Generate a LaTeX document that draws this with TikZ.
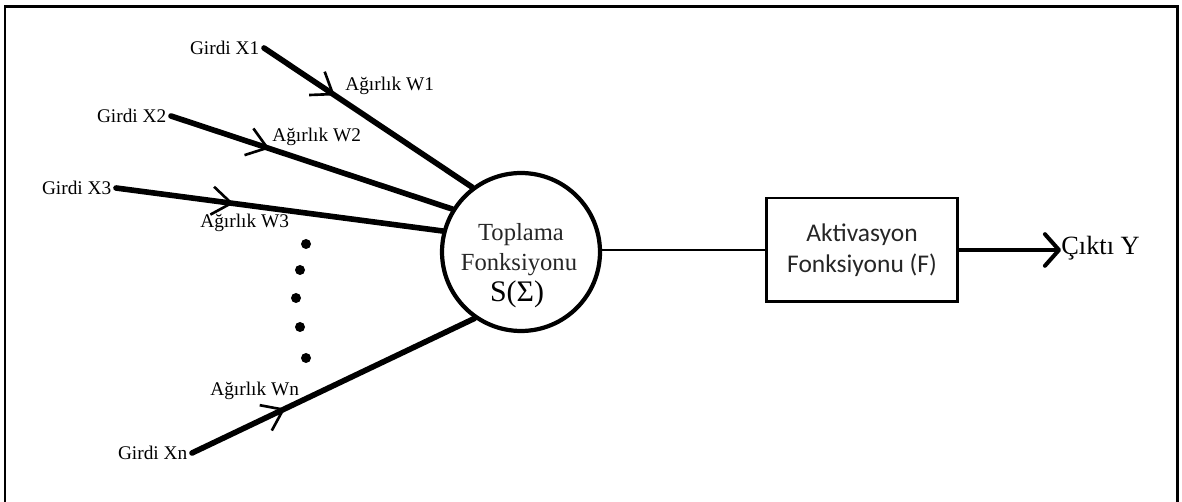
\documentclass[tikz,border=0pt]{standalone}
\usepackage{fontspec}
\setmainfont{Liberation Serif}
\newfontfamily\boxfont{Carlito}
\usetikzlibrary{arrows.meta,decorations.markings}
\begin{document}
\begin{tikzpicture}[x=0.02cm,y=-0.02cm,
  inlabel/.style={font=\fontsize{11}{13}\selectfont, inner sep=2.5pt, anchor=east},
  wlabel/.style={font=\fontsize{11}{13}\selectfont, inner sep=0pt, anchor=west},
  inputline/.style={line width=3.2pt, line cap=round, postaction={decorate},
    decoration={markings, mark=at position #1 with {\arrow{Straight Barb[length=11pt,width=16pt,line width=1.5pt]}}}},
  dotnode/.style={circle, fill=black, inner sep=0pt, minimum size=0.2cm},
  sumtext/.style={font=\fontsize{14}{16}\selectfont, text=black!85, inner sep=0pt},
]
\useasboundingbox (0,0) rectangle (1182,502);
% frame
\draw[line width=1.7pt] (5,502) -- (5,7) -- (1177,7) -- (1177,502);

% summation circle
\node[circle, draw, line width=2.4pt, minimum size=3.16cm, inner sep=0pt] (sum) at (521,252) {};
\node[sumtext] (t1) at (521,235) {Toplama};
\node[sumtext] (t2) at (519,265) {Fonksiyonu};
\node[sumtext, font=\fontsize{17}{19}\selectfont, text=black] (t3) at (517,294) {S(Σ)};

% activation box
\node[draw, line width=1.7pt, minimum width=3.82cm, minimum height=2.08cm, inner sep=0pt,
      font=\boxfont\fontsize{14.5}{17.6}\selectfont, text=black!85, align=center] (act) at (862,250)
      {Aktivasyon\\Fonksiyonu (F)};
\draw[line width=1.4pt] (sum.east |- act.west) -- (act.west);

% output
\node[font=\fontsize{15}{17}\selectfont, inner sep=0pt, anchor=west] (out) at (1061,248) {Çıktı Y};
\draw[line width=2.8pt, -{Straight Barb[length=8pt,width=18pt,line width=2.3pt,round]}] (act.east) -- (out.west |- act.east);

% inputs
\node[inlabel] (x1) at (264,48) {Girdi X1};
\node[inlabel] (x2) at (171,116) {Girdi X2};
\node[inlabel] (x3) at (116,188) {Girdi X3};
\node[inlabel] (xn) at (192,453) {Girdi Xn};

\draw[inputline=0.34] (x1.east) -- (sum.127);
\draw[inputline=0.35] (x2.east) -- (sum.148);
\draw[inputline=0.36] (x3.east) -- (sum.165);
\draw[inputline=0.33] (xn.east) -- (sum.235);

\node[wlabel] (w1) at (345,86) {Ağırlık W1};
\node[wlabel] (w2) at (272,137) {Ağırlık W2};
\node[wlabel] (w3) at (200,223) {Ağırlık W3};
\node[wlabel] (wn) at (210,391) {Ağırlık Wn};

% dots
\node[dotnode] (d1) at (306,244) {};
\node[dotnode] (d2) at (300,270) {};
\node[dotnode] (d3) at (296,298) {};
\node[dotnode] (d4) at (300,327) {};
\node[dotnode] (d5) at (306,358) {};
\end{tikzpicture}
\end{document}
